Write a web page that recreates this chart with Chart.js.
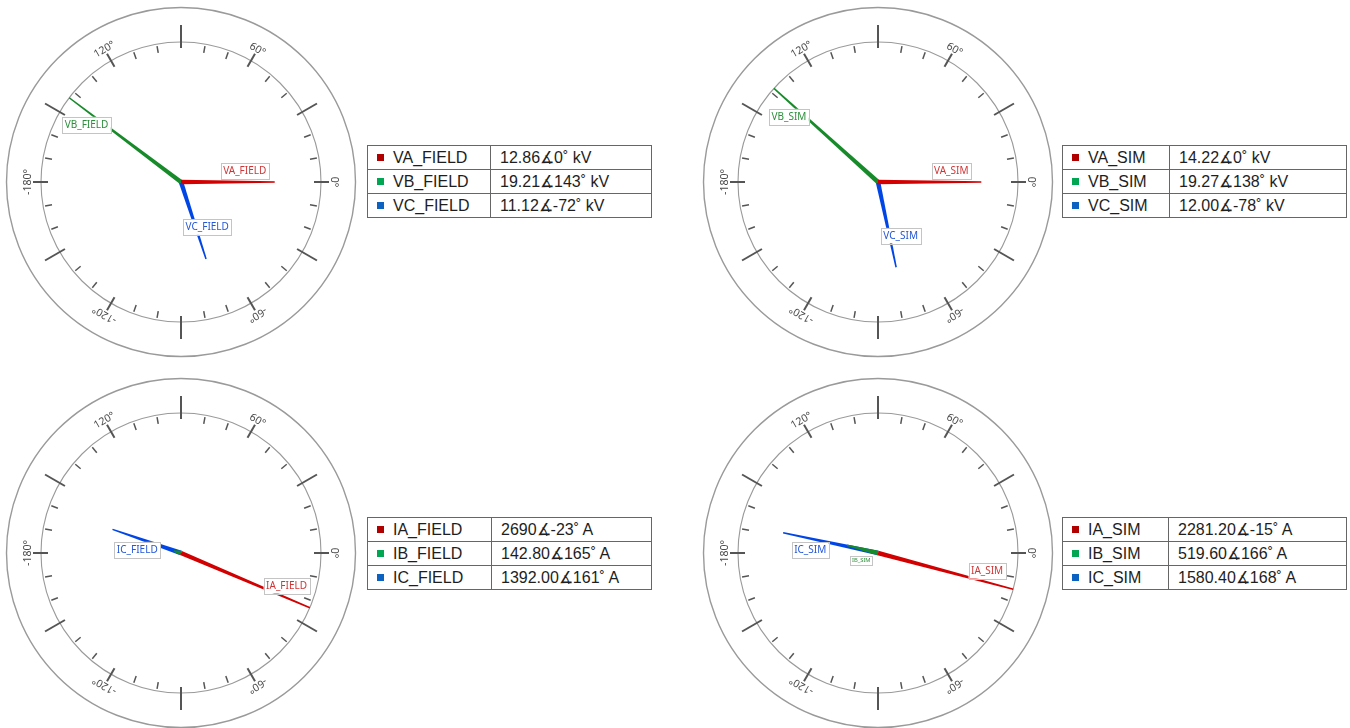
<!DOCTYPE html>
<html lang="en">
<head>
<meta charset="UTF-8">
<title>Phasors</title>
<script src="https://cdn.jsdelivr.net/npm/chart.js@4.4.1/dist/chart.umd.min.js"></script>
<style>
  body { margin: 0; background: #fff; width: 1350px; height: 728px; overflow: hidden; position: relative; }
  canvas { position: absolute; }
  table.leg { position: absolute; border-collapse: collapse; width: 285px; font: 16px "Liberation Sans", Arial, sans-serif; color: #1e1e1e; }
  table.leg td { border: 1px solid #666; height: 23px; padding: 0 0 0 9px; white-space: nowrap; }
  table.leg .sq { display: inline-block; width: 7px; height: 7px; margin-right: 9px; vertical-align: 2px; }
</style>
</head>
<body>
<script>
// phasor data
const fieldVoltNames = ['VA_FIELD', 'VB_FIELD', 'VC_FIELD'];
const fieldVoltMags = ['12.86', '19.21', '11.12'];
const fieldVoltAngles = [0, 143, -72];

const simVoltNames = ['VA_SIM', 'VB_SIM', 'VC_SIM'];
const simVoltMags = ['14.22', '19.27', '12.00'];
const simVoltAngles = [0, 138, -78];

const fieldCurNames = ['IA_FIELD', 'IB_FIELD', 'IC_FIELD'];
const fieldCurMags = ['2690', '142.80', '1392.00'];
const fieldCurAngles = [-23, 165, 161];

const simCurNames = ['IA_SIM', 'IB_SIM', 'IC_SIM'];
const simCurMags = ['2281.20', '519.60', '1580.40'];
const simCurAngles = [-15, 166, 168];

const dialAngles = [0, 60, 120, 180, -120, -60];
const dialLabels = ['0°', '60°', '120°', '-180°', '-120°', '-60°'];

// colours
const lineColors = ['#d20000', '#178a2a', '#0046e6'];
const textColors = ['#d03535', '#2a8f3a', '#2456d8'];
const squareColors = ['#b00000', '#00a651', '#0b62c0'];

const panels = [
  { names: fieldVoltNames, mags: fieldVoltMags, angles: fieldVoltAngles, unit: 'kV', cx: 181, cy: 182, tx: 367, ty: 145, col1: 123 },
  { names: simVoltNames, mags: simVoltMags, angles: simVoltAngles, unit: 'kV', cx: 878, cy: 182, tx: 1062, ty: 145, col1: 107 },
  { names: fieldCurNames, mags: fieldCurMags, angles: fieldCurAngles, unit: 'A', cx: 181, cy: 553, tx: 367, ty: 517, col1: 124 },
  { names: simCurNames, mags: simCurMags, angles: simCurAngles, unit: 'A', cx: 878, cy: 553, tx: 1062, ty: 517, col1: 106 }
];

const SIZE = 360;
const INNER_R = 140;

const rad = d => d * Math.PI / 180;

const dialPlugin = {
  id: 'dial',
  beforeDatasetsDraw(chart, args, opts) {
    const ctx = chart.ctx;
    const xs = chart.scales.x, ys = chart.scales.y;
    const cx = xs.getPixelForValue(0), cy = ys.getPixelForValue(0);
    const rIn = xs.getPixelForValue(opts.maxMag) - cx;
    ctx.save();
    // outer ring
    ctx.strokeStyle = '#9a9a9a';
    ctx.lineWidth = 1.4;
    ctx.beginPath();
    ctx.arc(cx, cy, rIn + 34.5, 0, Math.PI * 2);
    ctx.stroke();
    // inner ring
    ctx.lineWidth = 1.1;
    ctx.beginPath();
    ctx.arc(cx, cy, rIn, 0, Math.PI * 2);
    ctx.stroke();
    // ticks
    ctx.strokeStyle = '#555';
    for (let a = 0; a < 360; a += 10) {
      let r0, r1, w;
      if (a % 60 === 0) { r0 = rIn - 7; r1 = rIn + 8; w = 2; }
      else if (a % 30 === 0) { r0 = rIn - 6; r1 = rIn + 17; w = 2; }
      else { r0 = rIn - 9; r1 = rIn - 2; w = 1.5; }
      const c = Math.cos(rad(a)), s = Math.sin(rad(a));
      ctx.lineWidth = w;
      ctx.beginPath();
      ctx.moveTo(cx + r0 * c, cy - r0 * s);
      ctx.lineTo(cx + r1 * c, cy - r1 * s);
      ctx.stroke();
    }
    // angle labels
    ctx.fillStyle = '#484848';
    ctx.font = '10.5px "Noto Sans", sans-serif';
    ctx.textAlign = 'center';
    ctx.textBaseline = 'alphabetic';
    dialAngles.forEach((a, i) => {
      const r = rIn + 10;
      ctx.save();
      ctx.translate(cx + r * Math.cos(rad(a)), cy - r * Math.sin(rad(a)));
      ctx.rotate(rad(90 - a));
      ctx.fillText(dialLabels[i], 0, 0);
      ctx.restore();
    });
    ctx.restore();
  },
  afterDatasetsDraw(chart, args, opts) {
    const ctx = chart.ctx;
    const xs = chart.scales.x, ys = chart.scales.y;
    const cx = xs.getPixelForValue(0), cy = ys.getPixelForValue(0);
    const n = chart.data.datasets.length;
    ctx.save();
    // tapered phasor lines, C first so A ends on top
    for (let i = n - 1; i >= 0; i--) {
      const tip = chart.getDatasetMeta(i).data[1];
      const dx = tip.x - cx, dy = tip.y - cy;
      const len = Math.hypot(dx, dy);
      if (len < 0.5) continue;
      const px = -dy / len, py = dx / len;
      const w0 = 2.3, w1 = 0.75;
      ctx.fillStyle = chart.data.datasets[i].borderColor;
      ctx.beginPath();
      ctx.moveTo(cx + px * w0, cy + py * w0);
      ctx.lineTo(tip.x + px * w1, tip.y + py * w1);
      ctx.lineTo(tip.x - px * w1, tip.y - py * w1);
      ctx.lineTo(cx - px * w0, cy - py * w0);
      ctx.closePath();
      ctx.fill();
    }
    // boxed labels
    ctx.textAlign = 'center';
    ctx.textBaseline = 'middle';
    for (let i = 0; i < n; i++) {
      const ds = chart.data.datasets[i];
      const tip = chart.getDatasetMeta(i).data[1];
      const dx = tip.x - cx, dy = tip.y - cy;
      const len = Math.hypot(dx, dy);
      const k = Math.min(1, len / 55);
      if (k < 0.3) continue;
      const ux = dx / len, uy = dy / len;
      const along = len - 30 * k;
      const lx = cx + ux * along + uy * 11;
      const ly = cy + uy * along - ux * 11;
      ctx.font = (10 * k) + 'px "Noto Sans", sans-serif';
      const tw = ctx.measureText(ds.label).width + 5 * k;
      const th = 15.5 * k;
      ctx.fillStyle = '#fff';
      ctx.fillRect(lx - tw / 2, ly - th / 2, tw, th);
      ctx.strokeStyle = '#c4c4c4';
      ctx.lineWidth = 1;
      ctx.strokeRect(Math.round(lx - tw / 2) + 0.5, Math.round(ly - th / 2) + 0.5, Math.round(tw), Math.round(th));
      ctx.fillStyle = textColors[i];
      ctx.fillText(ds.label, lx, ly + 0.5);
    }
    ctx.restore();
  }
};

panels.forEach((p, pi) => {
  const vals = p.mags.map(Number);
  const maxMag = Math.max(...vals);
  const R = maxMag * (SIZE / 2) / INNER_R;

  const cv = document.createElement('canvas');
  cv.width = SIZE;
  cv.height = SIZE;
  cv.style.left = (p.cx - SIZE / 2) + 'px';
  cv.style.top = (p.cy - SIZE / 2) + 'px';
  document.body.appendChild(cv);

  const datasets = p.names.map((name, i) => ({
    label: name,
    data: [
      { x: 0, y: 0 },
      { x: vals[i] * Math.cos(rad(p.angles[i])), y: vals[i] * Math.sin(rad(p.angles[i])) }
    ],
    borderColor: lineColors[i],
    backgroundColor: lineColors[i],
    pointRadius: 0,
    showLine: false
  }));

  new Chart(cv.getContext('2d'), {
    type: 'scatter',
    data: { datasets: datasets },
    options: {
      responsive: false,
      animation: false,
      devicePixelRatio: 1,
      layout: { padding: 0 },
      scales: {
        x: { type: 'linear', min: -R, max: R, display: false },
        y: { type: 'linear', min: -R, max: R, display: false }
      },
      plugins: {
        legend: { display: false },
        tooltip: { enabled: false },
        dial: { maxMag: maxMag }
      }
    },
    plugins: [dialPlugin]
  });

  // legend table
  const tbl = document.createElement('table');
  tbl.className = 'leg';
  tbl.style.left = p.tx + 'px';
  tbl.style.top = p.ty + 'px';
  p.names.forEach((name, i) => {
    const tr = document.createElement('tr');
    const td1 = document.createElement('td');
    td1.style.width = (p.col1 - 10) + 'px';
    td1.innerHTML = '<span class="sq" style="background:' + squareColors[i] + '"></span>' + name;
    const td2 = document.createElement('td');
    td2.textContent = p.mags[i] + '∡' + p.angles[i] + '˚ ' + p.unit;
    tr.appendChild(td1);
    tr.appendChild(td2);
    tbl.appendChild(tr);
  });
  document.body.appendChild(tbl);
});
</script>
</body>
</html>
